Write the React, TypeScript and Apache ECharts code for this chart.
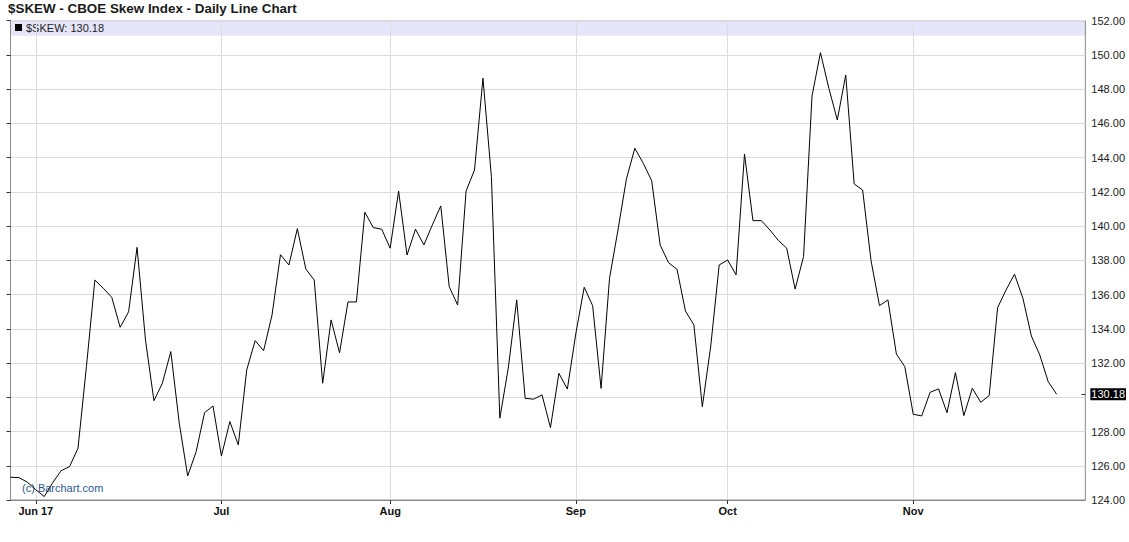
import React, { useEffect, useRef } from "react";
import * as echarts from "echarts";

const TITLE = "$SKEW - CBOE Skew Index - Daily Line Chart";
const LEGEND_TEXT = "$SKEW: 130.18";
const WATERMARK = "(c) Barchart.com";

const skewValues: number[] = [
  125.33, 125.31, 125.04, 124.6, 124.2, 125.01, 125.71, 125.95, 127.02, 131.79,
  136.85, 136.37, 135.84, 134.09, 135.0, 138.76, 133.34, 129.8, 130.82, 132.67,
  128.5, 125.4, 126.82, 129.1, 129.49, 126.57, 128.58, 127.22, 131.6, 133.31,
  132.72, 134.81, 138.33, 137.73, 139.85, 137.5, 136.85, 130.82, 134.52, 132.6,
  135.57, 135.57, 140.81, 139.91, 139.82, 138.71, 142.05, 138.31, 139.82, 138.9,
  140.07, 141.18, 136.46, 135.39, 142.05, 143.28, 148.64, 142.89, 128.78, 131.7,
  135.69, 129.94, 129.89, 130.14, 128.23, 131.4, 130.48, 133.7, 136.43, 135.35,
  130.52, 136.95, 139.77, 142.74, 144.55, 143.67, 142.65, 138.9, 137.86, 137.48,
  135.04, 134.23, 129.45, 133.0, 137.73, 138.02, 137.15, 144.21, 140.32, 140.32,
  139.78, 139.17, 138.71, 136.32, 138.23, 147.6, 150.13, 148.05, 146.2, 148.83,
  142.46, 142.11, 137.98, 135.35, 135.69, 132.53, 131.79, 129.01, 128.91, 130.29,
  130.49, 129.1, 131.44, 128.93, 130.53, 129.71, 130.1, 135.24, 136.27, 137.19,
  135.78, 133.58, 132.47, 130.91, 130.18,
];

const monthLabels: string[] = ["Jun 17", "Jul", "Aug", "Sep", "Oct", "Nov"];
const monthIndex: number[] = [3, 25, 45, 67, 85, 107];

const yMin = 124;
const yMax = 152;
const yStep = 2;
const lastValue = 130.18;

const FONT = "Arial, 'Liberation Sans', sans-serif";

export default function App() {
  const ref = useRef<HTMLDivElement>(null);

  useEffect(() => {
    if (!ref.current) return;
    const chart = echarts.init(ref.current, undefined, { renderer: "svg" });
    const gridLeft = 10.5;
    const gridTop = 20.7;
    const gridRight = 42.3;
    const gridBottom = 42;
    const gridWidth = 1129 - gridLeft - gridRight;

    const option: any = {
      animation: false,
      backgroundColor: "#ffffff",
      textStyle: { fontFamily: FONT },
      title: {
        text: TITLE,
        left: 8,
        top: 2,
        padding: 0,
        textStyle: { fontFamily: FONT, fontSize: 13.4, fontWeight: "bold", color: "#1a1a1a" },
      },
      grid: {
        left: gridLeft,
        top: gridTop,
        right: gridRight,
        bottom: gridBottom,
        show: true,
        borderColor: "#8a8a8a",
        borderWidth: 1,
        backgroundColor: "transparent",
      },
      graphic: [
        {
          type: "rect",
          z: -1,
          shape: { x: gridLeft + 0.5, y: gridTop + 0.5, width: gridWidth - 1, height: 14.5 },
          style: { fill: "#e6e6fa" },
          silent: true,
        },
        {
          type: "rect",
          shape: { x: 15, y: 24, width: 7, height: 7 },
          style: { fill: "#000" },
          silent: true,
        },
        {
          type: "text",
          x: 26,
          y: 28,
          style: {
            text: LEGEND_TEXT,
            fontFamily: FONT,
            fontSize: 11,
            fill: "#222",
            verticalAlign: "middle",
          },
          silent: true,
        },
        {
          type: "text",
          x: 22,
          y: 488,
          style: {
            text: WATERMARK,
            fontFamily: FONT,
            fontSize: 11,
            fill: "#2b5690",
            verticalAlign: "middle",
          },
          silent: true,
        },
      ],
      xAxis: {
        type: "value",
        min: 0,
        max: 127.4,
        axisLine: { show: true, lineStyle: { color: "#8a8a8a" } },
        axisTick: {
          show: true,
          customValues: monthIndex,
          length: 4,
          lineStyle: { color: "#333" },
        },
        splitLine: { show: true, lineStyle: { color: "#dcdcdc", width: 1 } },
        axisLabel: {
          customValues: monthIndex,
          margin: 5,
          fontFamily: FONT,
          fontSize: 11,
          fontWeight: "bold",
          color: "#111",
          formatter: (v: number) => {
            const k = monthIndex.indexOf(Math.round(v));
            return k >= 0 ? monthLabels[k] : "";
          },
        },
      },
      yAxis: [
        {
          type: "value",
          position: "right",
          min: yMin,
          max: yMax,
          interval: yStep,
          axisLine: { show: true, lineStyle: { color: "#8a8a8a" } },
          axisTick: { show: true, inside: true, length: 4, lineStyle: { color: "#333" } },
          splitLine: { show: true, lineStyle: { color: "#dcdcdc", width: 1 } },
          axisLabel: {
            margin: 6,
            fontFamily: FONT,
            fontSize: 11,
            color: "#222",
            formatter: (v: number) => (Math.abs(v - 130) < 0.001 ? "" : v.toFixed(2)),
          },
        },
        {
          type: "value",
          position: "right",
          min: yMin,
          max: yMax,
          axisLine: { show: false },
          splitLine: { show: false },
          axisTick: {
            show: true,
            inside: true,
            length: 4,
            customValues: [lastValue],
            lineStyle: { color: "#333" },
          },
          axisLabel: {
            customValues: [lastValue],
            margin: 5,
            fontFamily: FONT,
            fontSize: 11,
            color: "#ffffff",
            backgroundColor: "#000000",
            padding: [1, 1, 0, 1],
            formatter: (v: number) => v.toFixed(2),
          },
        },
      ],
      series: [
        {
          type: "line",
          data: skewValues.map((v, i) => [i, v]),
          showSymbol: false,
          symbol: "none",
          lineStyle: { color: "#000000", width: 1 },
          silent: true,
          z: 3,
        },
      ],
    };
    chart.setOption(option);
    return () => chart.dispose();
  }, []);

  return (
    <div
      ref={ref}
      style={{ position: "absolute", left: 0, top: 0, width: 1129, height: 542 }}
    />
  );
}
